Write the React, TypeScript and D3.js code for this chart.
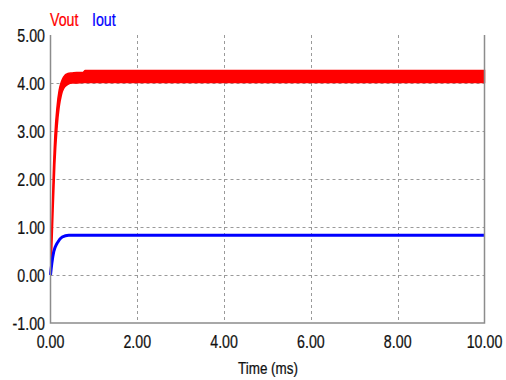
import React, { useEffect, useRef } from 'react';
import * as d3 from 'd3';

// Vout ripple envelope (upper / lower), values in V
const voutTime = [0, 0.015, 0.03, 0.06, 0.1, 0.15, 0.2, 0.25, 0.3, 0.4, 0.5, 0.6, 0.75, 0.8, 10];
const voutUpper = [0, 0.5, 1.0, 2.0, 2.9, 3.5, 3.85, 4.02, 4.12, 4.2, 4.21, 4.22, 4.22, 4.26, 4.26];
const voutLower = [0, 0.2, 0.55, 1.35, 2.3, 3.05, 3.5, 3.75, 3.88, 3.97, 4.0, 4.0, 4.01, 4.01, 4.01];

// Iout
const ioutTime = [0, 0.03, 0.076, 0.15, 0.27, 0.42, 10];
const ioutValue = [0, 0.24, 0.49, 0.66, 0.79, 0.83, 0.83];

const xTicks = [0, 2, 4, 6, 8, 10];
const yTicks = [-1, 0, 1, 2, 3, 4, 5];

const App = () => {
  const ref = useRef<SVGSVGElement | null>(null);

  useEffect(() => {
    if (!ref.current) return;
    const W = 506, H = 380;
    const svg = d3.select(ref.current);
    svg.selectAll('*').remove();

    const left = 50.5, right = 484.5, top = 35, bottom = 323;
    const x = d3.scaleLinear().domain([0, 10]).range([left, right]);
    const y = d3.scaleLinear().domain([-1, 5]).range([bottom, top]);
    const font = '"Liberation Sans", Arial, sans-serif';
    const squeeze = 0.79; // narrow look of the original font

    // condensed text helper
    const label = (px: number, py: number, txt: string, size: number, color: string, anchor: string) =>
      svg.append('g')
        .attr('transform', `translate(${px},${py}) scale(${squeeze},1)`)
        .append('text')
        .attr('text-anchor', anchor)
        .style('font-family', font)
        .style('font-size', `${size}px`)
        .style('fill', color)
        .style('stroke', color)
        .style('stroke-width', 0.25)
        .text(txt);

    svg.append('rect').attr('width', W).attr('height', H).attr('fill', '#fff');

    // grid
    const grid = svg.append('g')
      .attr('stroke', '#9a9a9a')
      .attr('stroke-width', 1)
      .attr('stroke-dasharray', '3,3');
    xTicks.filter(t => t > 0 && t < 10).forEach(t => {
      grid.append('line')
        .attr('x1', Math.round(x(t)) + 0.5).attr('x2', Math.round(x(t)) + 0.5)
        .attr('y1', top).attr('y2', bottom);
    });
    yTicks.filter(t => t > -1 && t < 5).forEach(t => {
      grid.append('line')
        .attr('x1', left).attr('x2', right)
        .attr('y1', Math.round(y(t)) + 0.5).attr('y2', Math.round(y(t)) + 0.5);
    });

    // Vout band
    const band = voutTime.map((t, i) => ({ t, hi: voutUpper[i], lo: voutLower[i] }));
    svg.append('path')
      .datum(band)
      .attr('fill', '#ff0000')
      .attr('stroke', '#ff0000')
      .attr('stroke-width', 1.5)
      .attr('d', d3.area<any>()
        .x(d => x(d.t))
        .y0(d => y(d.lo))
        .y1(d => y(d.hi))
        .curve(d3.curveMonotoneX));

    // Iout
    const iout = ioutTime.map((t, i) => ({ t, v: ioutValue[i] }));
    svg.append('path')
      .datum(iout)
      .attr('fill', 'none')
      .attr('stroke', '#0000ff')
      .attr('stroke-width', 3)
      .attr('d', d3.line<any>()
        .x(d => x(d.t))
        .y(d => y(d.v))
        .curve(d3.curveMonotoneX));

    // frame: left, bottom, right
    svg.append('path')
      .attr('fill', 'none')
      .attr('stroke', '#8c8c8c')
      .attr('stroke-width', 1.5)
      .attr('d', `M${left},${top}V${bottom}H${right}V${top}`);

    // tick labels
    yTicks.forEach(t => label(45, y(t) + 6.5, t.toFixed(2), 18, '#111', 'end'));
    xTicks.forEach(t => label(x(t), 348, t.toFixed(2), 18, '#111', 'middle'));

    label(268, 374, 'Time (ms)', 17, '#111', 'middle');

    // legend
    label(50, 26, 'Vout', 18, '#ff0000', 'start');
    label(92, 26, 'Iout', 18, '#0000ff', 'start');
  }, []);

  return (
    <div style={{ position: 'fixed', left: 0, top: 0 }}>
      <svg ref={ref} width={506} height={380} style={{ display: 'block' }} />
    </div>
  );
};

export default App;
